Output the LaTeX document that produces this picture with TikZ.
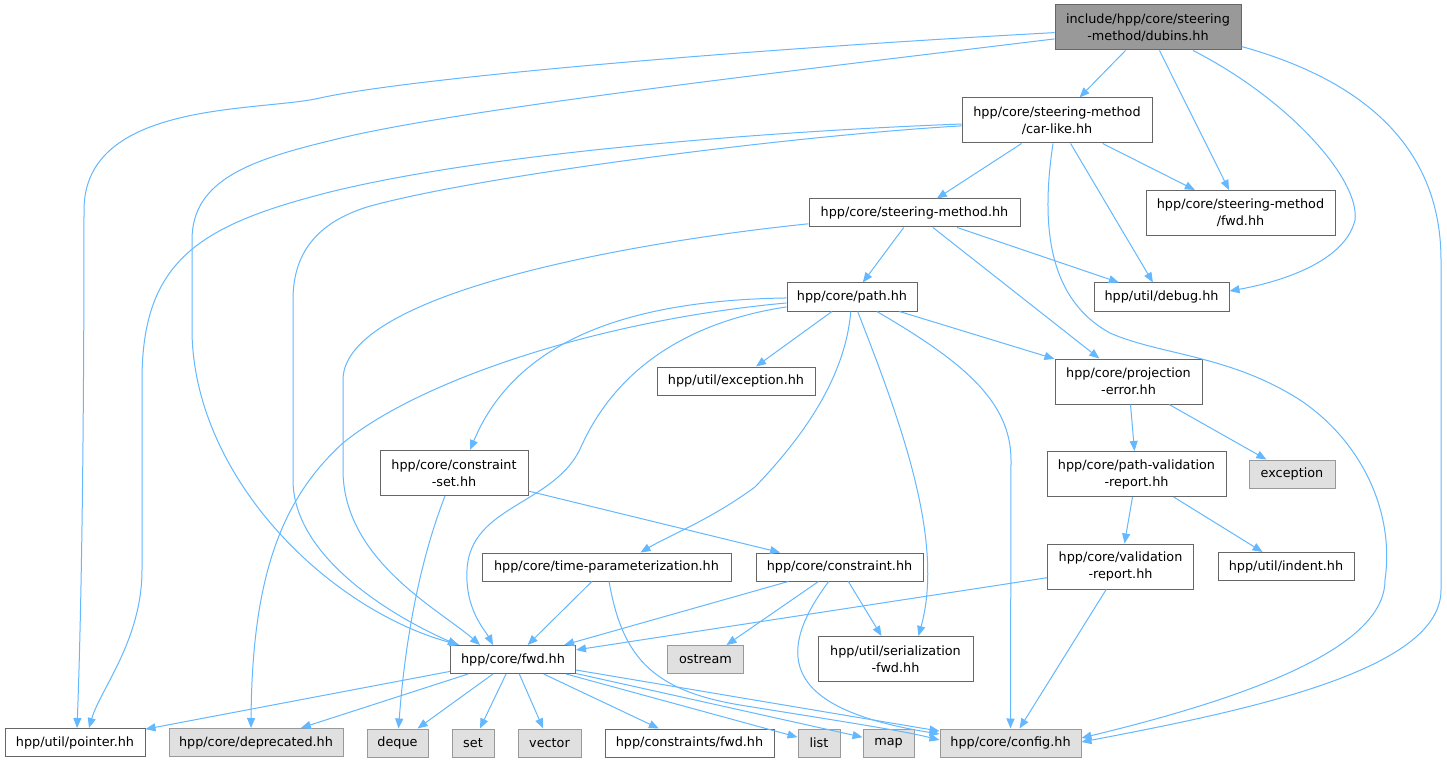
\documentclass[tikz,border=0pt]{standalone}
\usepackage{fontspec}
\setmainfont{DejaVu Sans}
\usetikzlibrary{arrows.meta,calc}
\definecolor{edgec}{HTML}{63B8FF}
\definecolor{bord}{HTML}{666666}
\definecolor{gbord}{HTML}{999999}
\definecolor{gfill}{HTML}{E0E0E0}
\definecolor{topfill}{HTML}{999999}
\begin{document}
\begin{tikzpicture}[x=0.75pt,y=-0.75pt,
  box/.style={draw=bord,fill=white,line width=0.75pt,inner sep=0pt,align=center,
    font=\fontsize{9.6pt}{12.75pt}\selectfont,minimum height=21pt},
  tall/.style={minimum height=33.75pt},
  ext/.style={box,draw=gbord,fill=gfill},
  edge/.style={draw=edgec,line width=0.75pt,-{Triangle[length=7.5pt,width=6pt]}}]
\fill[white] (0,0) rectangle (1447,763);
\useasboundingbox (0,0) rectangle (1447,763);
% nodes
\node[box,tall,fill=topfill,minimum width=139.5pt] (dubins) at (1148,27.5) {include/hpp/core/steering\\-method/dubins.hh};
\node[box,tall,minimum width=142.5pt] (carlike) at (1057,120.5) {hpp/core/steering-method\\/car-like.hh};
\node[box,tall,minimum width=141.75pt] (smfwd) at (1240.5,213) {hpp/core/steering-method\\/fwd.hh};
\node[box,minimum width=158.25pt] (sm) at (914.5,213) {hpp/core/steering-method.hh};
\node[box,minimum width=101.25pt] (debug) at (1161.5,297) {hpp/util/debug.hh};
\node[box,minimum width=97.5pt] (path) at (852,297) {hpp/core/path.hh};
\node[box,minimum width=118.5pt] (uexc) at (736,381) {hpp/util/exception.hh};
\node[box,tall,minimum width=110.25pt] (projerr) at (1128.5,381.5) {hpp/core/projection\\-error.hh};
\node[ext,minimum width=64.5pt] (exc) at (1292,474) {exception};
\node[box,tall,minimum width=134.25pt] (pvr) at (1136.5,474) {hpp/core/path-validation\\-report.hh};
\node[box,tall,minimum width=111pt] (cset) at (454,473) {hpp/core/constraint\\-set.hh};
\node[box,minimum width=186.75pt] (timep) at (606.5,567) {hpp/core/time-parameterization.hh};
\node[box,minimum width=125.25pt] (constraint) at (839.5,567) {hpp/core/constraint.hh};
\node[box,tall,minimum width=109.5pt] (vr) at (1120.5,566.5) {hpp/core/validation\\-report.hh};
\node[box,minimum width=102pt] (indent) at (1286,566.5) {hpp/util/indent.hh};
\node[box,minimum width=93.75pt] (fwd) at (513,659.5) {hpp/core/fwd.hh};
\node[ext,minimum width=57pt] (ostream) at (705.5,659.5) {ostream};
\node[box,tall,minimum width=116.25pt] (serial) at (895.5,659) {hpp/util/serialization\\-fwd.hh};
\node[box,minimum width=105pt] (pointer) at (75,742.5) {hpp/util/pointer.hh};
\node[ext,minimum width=130.5pt] (deprecated) at (256,742.5) {hpp/core/deprecated.hh};
\node[ext,minimum width=45.75pt] (deque) at (397.5,743) {deque};
\node[ext,minimum width=31.5pt] (set) at (473,743) {set};
\node[ext,minimum width=47.25pt] (vector) at (549.5,743) {vector};
\node[box,minimum width=126.75pt] (cfwd) at (689.5,743) {hpp/constraints/fwd.hh};
\node[ext,minimum width=31.5pt] (list) at (819,743) {list};
\node[ext,minimum width=38.25pt] (map) at (888.5,743) {map};
\node[ext,minimum width=105.75pt] (config) at (1010.5,743) {hpp/core/config.hh};
% edges from dubins
\draw[edge] (dubins) -- (carlike);
\draw[edge] (dubins) -- (smfwd);
\draw[edge] (dubins) .. controls (1290,100) and (1360,180) .. (1355,220) .. controls (1345,262) and (1280,282) .. ($(debug.east)+(0,-6)$);
\draw[edge] ($(dubins.east)+(0,19)$) .. controls (1380,85) and (1441,160) .. (1441,260) -- (1441,590) .. controls (1441,670) and (1250,710) .. ($(config.east)+(0,-1)$);
\draw[edge] (dubins) .. controls (700,52) and (400,80) .. (320,98) .. controls (260,112) and (84,100) .. (84,210) .. controls (84,500) and (80,650) .. ($(pointer.north)+(2,0)$);
\draw[edge] (dubins) .. controls (800,70) and (450,110) .. (333,140) .. controls (250,160) and (192,180) .. (192,240) -- (192,333) .. controls (195,480) and (330,610) .. (fwd);
% edges from car-like
\draw[edge] (carlike) -- (sm);
\draw[edge] (carlike) -- (smfwd);
\draw[edge] (carlike) -- (debug);
\draw[edge] ($(carlike.south)+(-4,0)$) .. controls (1040,230) and (1050,300) .. (1110,333) .. controls (1160,355) and (1230,355) .. (1300,400) .. controls (1360,440) and (1395,510) .. (1385,580) .. controls (1385,640) and (1280,690) .. ($(config.east)+(0,-5)$);
\draw[edge] (carlike) .. controls (800,130) and (500,150) .. (330,192) .. controls (200,225) and (142,260) .. (142,380) -- (142,570) .. controls (142,640) and (100,690) .. ($(pointer.north)+(14,0)$);
\draw[edge] (carlike) .. controls (800,135) and (480,175) .. (367,207) .. controls (310,225) and (293,260) .. (293,300) -- (293,480) .. controls (293,560) and (400,620) .. ($(fwd.north west)+(8,0)$);
% edges from steering-method
\draw[edge] (sm) -- (path);
\draw[edge] (sm) -- (debug);
\draw[edge] (sm) -- (projerr);
\draw[edge] (sm) .. controls (650,240) and (343,290) .. (343,380) -- (343,470) .. controls (343,560) and (440,610) .. ($(fwd.north)+(-33,0)$);
% edges from path
\draw[edge] (path) -- (uexc);
\draw[edge] (path) -- (projerr);
\draw[edge] (path) .. controls (960,360) and (1011,400) .. (1011,460) -- (config.north);
\draw[edge] (path) .. controls (900,420) and (945,540) .. ($(serial.north)+(23,0)$);
\draw[edge] (path) .. controls (845,380) and (800,440) .. (755,487) .. controls (710,520) and (670,535) .. ($(timep.north)+(34,0)$);
\draw[edge] (path) .. controls (650,300) and (520,330) .. ($(cset.north)+(16,0)$);
\draw[edge] (path) .. controls (700,320) and (620,360) .. (581,447) .. controls (555,505) and (470,505) .. (467,570) .. controls (465,610) and (485,630) .. ($(fwd.north)+(-20,0)$);
\draw[edge] (path) .. controls (600,320) and (420,380) .. (343,443) .. controls (280,500) and (252,580) .. ($(deprecated.north)+(-5,0)$);
% constraint-set
\draw[edge] (cset) -- (constraint);
\draw[edge] (cset) .. controls (420,560) and (405,640) .. (deque);
% time-parameterization
\draw[edge] (timep) -- (fwd);
\draw[edge] (timep) .. controls (622,655) and (650,690) .. (740,705) .. controls (820,718) and (900,730) .. ($(config.west)+(0,-3)$);
% constraint
\draw[edge] (constraint) -- (fwd);
\draw[edge] (constraint) -- (ostream);
\draw[edge] (constraint) -- (serial);
\draw[edge] (constraint) .. controls (770,660) and (790,710) .. ($(config.west)+(0,-9)$);
% projection-error, reports
\draw[edge] (projerr) -- (pvr);
\draw[edge] (projerr) -- (exc);
\draw[edge] (pvr) -- (vr);
\draw[edge] (pvr) -- (indent);
\draw[edge] (vr) -- (fwd);
\draw[edge] (vr) -- (config);
% fwd
\draw[edge] (fwd) -- (pointer);
\draw[edge] (fwd) -- (deprecated);
\draw[edge] (fwd) -- (deque);
\draw[edge] (fwd) -- (set);
\draw[edge] (fwd) -- (vector);
\draw[edge] (fwd) -- (cfwd);
\draw[edge] (fwd) -- (list);
\draw[edge] (fwd) -- (map);
\draw[edge] (fwd) -- (config);
\end{tikzpicture}
\end{document}
